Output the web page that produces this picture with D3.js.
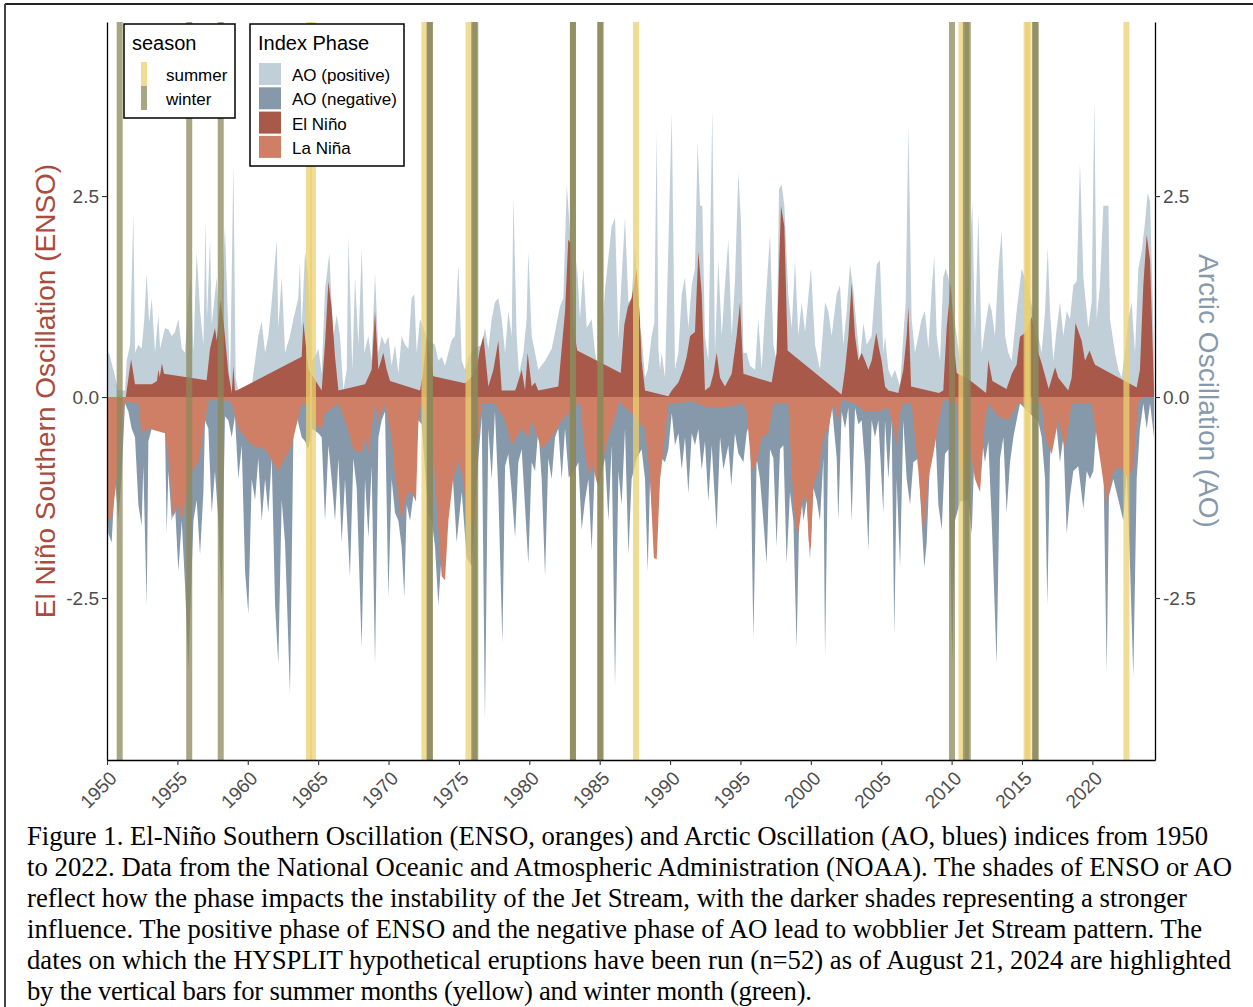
<!DOCTYPE html>
<html>
<head>
<meta charset="utf-8">
<script src="https://cdn.jsdelivr.net/npm/d3@7"></script>
<style>
  body { margin: 0; background: #fff; }
</style>
</head>
<body>
<div id="chart"></div>
<script>
// x axis ticks and y ticks (both y axes share the same scale)
const xTicks = [1950, 1955, 1960, 1965, 1970, 1975, 1980, 1985, 1990, 1995, 2000, 2005, 2010, 2015, 2020];
const yTicks = [-2.5, 0, 2.5];

// legend categories
const seasonNames = ["summer", "winter"];
const phaseNames = ["AO (positive)", "AO (negative)", "El Niño", "La Niña"];

// El Niño phase of ENSO  [year, index]
const ensoPos = [[1951.35,0.02],[1951.71,0.47],[1951.99,0.16],[1953.18,0.16],[1953.55,0.2],[1953.65,0.34],[1953.75,0.25],[1953.9,0.42],[1954.05,0.29],[1957.08,0.21],[1957.32,0.6],[1957.67,0.86],[1957.8,0.7],[1958.05,1.2],[1958.3,0.9],[1958.62,0.3],[1958.86,0.05],[1958.98,0.39],[1959.09,0.08],[1959.21,0.08],[1963.83,0.5],[1963.95,0.94],[1964.3,0.35],[1965.25,0.08],[1965.5,0.7],[1965.73,1.44],[1965.96,1.1],[1966.2,0.5],[1966.44,0.08],[1968.33,0.16],[1968.8,0.34],[1969.04,1.07],[1969.28,0.34],[1969.63,0.55],[1969.87,0.34],[1970.11,0.2],[1972.24,0.08],[1972.45,0.3],[1972.7,0.75],[1972.95,0.5],[1973.18,0.26],[1975.43,0.17],[1975.9,0.25],[1976.3,0.4],[1976.5,0.6],[1976.74,0.76],[1977.09,0.13],[1977.45,0.34],[1977.8,0.7],[1978.04,0.08],[1978.99,0.08],[1979.1,0.13],[1979.46,0.34],[1979.7,0.08],[1979.88,0.55],[1980.17,0.13],[1980.41,0.18],[1980.64,0.08],[1982.06,0.13],[1982.54,1.07],[1982.77,1.96],[1982.96,1.91],[1983.13,0.9],[1983.4,0.58],[1986.5,0.3],[1986.75,0.9],[1987.0,1.12],[1987.27,1.23],[1987.63,1.6],[1987.85,1.0],[1987.98,0.45],[1988.22,0.08],[1989.88,0.01],[1990.12,0.08],[1990.59,0.18],[1990.94,0.34],[1991.18,0.5],[1991.42,0.76],[1991.77,0.81],[1992.01,1.81],[1992.25,1.28],[1992.48,0.08],[1992.84,0.13],[1993.08,0.29],[1993.31,0.55],[1993.55,0.24],[1993.9,0.13],[1994.38,0.29],[1994.73,0.76],[1994.97,1.18],[1995.21,0.29],[1997.22,0.18],[1997.57,0.55],[1997.74,1.6],[1997.88,2.38],[1998.12,2.12],[1998.35,0.58],[2002.19,0.03],[2002.43,0.34],[2002.67,0.76],[2002.9,1.42],[2003.14,0.76],[2003.38,0.45],[2003.61,0.55],[2003.85,0.45],[2004.09,0.34],[2004.32,0.45],[2004.65,0.8],[2004.85,0.6],[2005.03,0.45],[2005.27,0.13],[2005.51,0.08],[2006.22,0.05],[2006.57,0.34],[2006.81,0.76],[2006.93,1.13],[2007.12,0.13],[2009.1,0.05],[2009.41,0.08],[2009.65,0.86],[2009.95,1.42],[2010.2,0.6],[2010.36,0.3],[2011.3,0.21],[2012.45,0.05],[2012.61,0.46],[2012.9,0.2],[2013.9,0.1],[2014.3,0.3],[2014.62,0.4],[2014.86,0.75],[2015.22,0.8],[2015.69,1.0],[2016.16,0.55],[2016.4,0.42],[2016.9,0.1],[2017.35,0.37],[2017.58,0.24],[2018.29,0.08],[2018.53,0.24],[2018.8,0.92],[2019.24,0.7],[2019.48,0.45],[2019.8,0.58],[2020.07,0.45],[2020.19,0.4],[2023.15,0.12],[2023.38,0.34],[2023.62,1.39],[2023.86,2.02],[2024.1,1.7],[2024.38,0.08]];

// La Niña phase of ENSO
const ensoNeg = [[1950.0,-1.5],[1950.33,-1.54],[1950.69,-1.02],[1951.04,-0.29],[1951.3,-0.05],[1952.23,-0.08],[1952.46,-0.45],[1952.94,-0.39],[1954.12,-0.45],[1954.36,-0.76],[1954.71,-1.49],[1955.07,-1.34],[1955.31,-1.54],[1955.66,-1.23],[1956.02,-0.92],[1956.49,-0.81],[1956.96,-0.29],[1957.25,-0.03],[1958.7,-0.05],[1958.86,-0.08],[1959.33,-0.39],[1960.28,-0.6],[1961.23,-0.65],[1962.17,-0.92],[1962.65,-0.76],[1963.12,-0.6],[1963.83,-0.08],[1964.54,-0.1],[1964.8,-0.35],[1965.25,-0.4],[1965.5,-0.2],[1966.44,-0.08],[1966.91,-0.29],[1967.5,-0.65],[1968.09,-0.7],[1968.33,-0.5],[1968.57,-0.7],[1968.8,-0.4],[1969.04,-0.08],[1969.28,-0.29],[1969.75,-0.08],[1970.22,-0.5],[1970.46,-0.97],[1970.93,-1.54],[1971.17,-1.3],[1971.41,-1.18],[1971.64,-1.18],[1971.95,-1.3],[1972.12,-0.29],[1972.36,-0.05],[1973.07,-0.45],[1973.42,-1.34],[1973.78,-2.23],[1974.01,-2.28],[1974.25,-1.54],[1974.6,-1.0],[1974.96,-0.8],[1975.32,-1.02],[1975.55,-1.54],[1975.91,-1.6],[1976.14,-1.2],[1976.38,-0.5],[1976.62,-0.08],[1977.56,-0.08],[1978.28,-0.29],[1978.75,-0.6],[1979.46,-0.39],[1979.93,-0.5],[1980.17,-0.29],[1980.88,-0.65],[1981.59,-0.5],[1982.3,-0.29],[1983.6,-0.05],[1983.9,-0.6],[1984.2,-0.95],[1984.5,-0.85],[1984.85,-1.1],[1985.2,-0.8],[1985.6,-0.5],[1986.0,-0.3],[1986.4,-0.05],[1986.8,-0.13],[1987.27,-0.2],[1987.75,-0.3],[1988.22,-0.39],[1988.58,-1.02],[1988.85,-2.0],[1989.05,-2.02],[1989.29,-1.02],[1989.64,-0.5],[1989.88,-0.08],[1990.3,-0.08],[1991.5,-0.05],[1992.7,-0.13],[1993.9,-0.13],[1995.2,-0.08],[1995.44,-0.18],[1995.8,-0.92],[1996.15,-0.81],[1996.51,-0.5],[1996.98,-0.45],[1997.34,-0.08],[1998.4,-0.08],[1998.64,-0.92],[1998.9,-1.6],[1999.11,-1.7],[1999.47,-1.23],[1999.71,-1.28],[1999.85,-1.8],[2000.0,-1.9],[2000.18,-1.1],[2000.53,-0.92],[2000.89,-0.5],[2001.24,-0.39],[2001.6,-0.08],[2001.95,-0.29],[2002.19,-0.03],[2003.14,-0.08],[2003.85,-0.18],[2004.8,-0.18],[2005.51,-0.13],[2005.74,-0.29],[2006.1,-0.6],[2006.34,-0.2],[2006.57,-0.08],[2007.16,-0.08],[2007.64,-0.92],[2007.99,-1.7],[2008.35,-1.02],[2008.7,-0.71],[2009.06,-0.34],[2009.41,-0.03],[2010.36,-0.08],[2010.8,-1.3],[2011.19,-0.5],[2011.66,-1.02],[2012.02,-1.18],[2012.37,-0.29],[2012.61,-0.08],[2013.32,-0.24],[2014.03,-0.29],[2014.74,-0.08],[2016.4,-0.08],[2016.64,-0.5],[2017.11,-0.71],[2017.58,-0.29],[2018.06,-0.65],[2018.53,-0.08],[2019.95,-0.08],[2020.54,-0.76],[2021.02,-1.34],[2021.49,-0.92],[2021.96,-0.86],[2022.56,-1.02],[2022.91,-0.86],[2023.27,-0.08],[2023.5,-0.01]];

// Arctic Oscillation, positive months
const aoPos = [[1950.0,0.6],[1950.22,0.5],[1950.45,0.34],[1950.81,0.08],[1951.28,0.08],[1951.4,0.45],[1951.64,0.65],[1951.87,2.28],[1951.99,0.55],[1952.23,0.65],[1952.46,0.6],[1952.65,0.97],[1952.82,1.54],[1952.99,0.92],[1953.18,1.23],[1953.41,0.55],[1953.65,1.02],[1953.77,0.6],[1954.12,0.86],[1954.36,0.84],[1954.6,0.76],[1954.83,0.81],[1955.07,0.97],[1955.31,0.6],[1955.54,0.55],[1955.78,1.23],[1955.97,1.49],[1956.14,0.55],[1956.37,1.81],[1956.61,1.07],[1956.85,0.65],[1957.0,2.2],[1957.1,0.97],[1957.32,1.96],[1957.44,0.9],[1957.79,1.49],[1958.03,0.76],[1958.38,2.12],[1958.74,0.13],[1958.98,2.91],[1959.14,0.24],[1959.33,0.08],[1959.81,0.1],[1960.28,0.13],[1960.52,0.45],[1960.75,0.76],[1960.99,0.94],[1961.23,0.55],[1961.46,0.76],[1961.7,1.18],[1961.94,1.7],[1962.06,1.96],[1962.17,0.86],[1962.41,1.49],[1962.65,0.55],[1963.0,0.76],[1963.24,0.97],[1963.59,1.23],[1963.7,1.68],[1963.83,0.86],[1964.07,1.81],[1964.3,1.49],[1964.54,0.45],[1964.78,0.5],[1965.02,0.6],[1965.25,0.29],[1965.49,1.34],[1965.8,1.79],[1965.95,1.2],[1966.08,0.76],[1966.32,1.02],[1966.55,0.76],[1966.79,0.08],[1967.03,0.34],[1967.15,2.0],[1967.43,0.34],[1967.62,1.49],[1967.86,0.65],[1968.1,1.85],[1968.28,0.55],[1968.57,0.76],[1968.8,0.45],[1969.04,1.54],[1969.28,0.55],[1969.51,0.76],[1969.75,0.65],[1969.99,0.76],[1970.22,0.39],[1970.46,0.65],[1970.7,0.29],[1970.93,0.76],[1971.17,0.65],[1971.41,0.6],[1971.64,1.23],[1971.83,1.28],[1972.0,0.55],[1972.24,0.97],[1972.47,0.86],[1972.8,0.71],[1973.3,0.65],[1973.54,0.45],[1973.78,0.5],[1974.01,0.39],[1974.25,0.55],[1974.49,0.71],[1974.72,0.76],[1974.96,1.65],[1975.2,0.45],[1975.43,0.34],[1975.7,0.5],[1976.1,0.6],[1976.62,0.65],[1976.85,0.86],[1977.09,0.6],[1977.33,0.97],[1977.56,1.18],[1977.8,1.23],[1978.04,0.97],[1978.28,0.55],[1978.51,1.07],[1978.75,0.76],[1978.87,2.49],[1979.1,0.76],[1979.27,0.29],[1979.58,0.55],[1979.81,0.97],[1979.93,1.81],[1980.17,0.76],[1980.41,0.55],[1980.64,0.34],[1981.12,0.45],[1981.59,0.6],[1981.83,0.81],[1982.18,1.13],[1982.42,1.23],[1982.66,2.64],[1982.89,2.07],[1983.13,0.76],[1983.37,1.7],[1983.6,0.97],[1983.84,1.6],[1984.08,0.86],[1984.43,0.97],[1984.67,0.55],[1984.91,0.34],[1985.14,0.76],[1985.38,1.34],[1985.85,2.12],[1986.09,2.23],[1986.33,0.71],[1986.56,1.49],[1986.8,2.23],[1987.04,1.18],[1987.27,1.23],[1987.51,1.91],[1987.75,0.97],[1987.98,0.76],[1988.22,0.24],[1988.41,0.34],[1988.69,0.76],[1988.88,0.92],[1989.05,3.32],[1989.17,0.6],[1989.29,0.34],[1989.4,0.55],[1989.64,0.24],[1990.12,3.53],[1990.35,0.34],[1990.59,0.55],[1990.83,1.28],[1991.06,1.49],[1991.3,0.86],[1991.54,1.39],[1991.77,1.6],[1991.96,3.17],[1992.13,2.38],[1992.29,2.38],[1992.48,0.76],[1992.72,0.45],[1993.0,3.59],[1993.19,0.55],[1993.43,1.7],[1993.67,0.76],[1993.9,1.39],[1994.14,1.96],[1994.38,0.76],[1994.61,1.44],[1994.85,2.8],[1995.04,2.17],[1995.21,0.55],[1995.44,0.55],[1995.68,0.39],[1996.04,0.34],[1996.27,0.97],[1996.51,0.34],[1996.75,1.07],[1997.1,2.02],[1997.34,0.65],[1997.57,0.45],[1997.74,2.59],[1997.93,2.64],[1998.12,2.38],[1998.4,1.28],[1998.64,0.86],[1998.88,1.7],[1999.11,0.76],[1999.35,1.18],[1999.59,0.81],[2000.01,1.6],[2000.3,0.65],[2000.65,0.34],[2001.01,1.18],[2001.24,1.07],[2001.48,0.76],[2001.84,1.28],[2002.07,1.39],[2002.31,0.65],[2002.55,1.07],[2002.78,1.65],[2003.02,1.34],[2003.26,0.86],[2003.49,0.45],[2003.73,0.92],[2003.97,0.65],[2004.32,0.76],[2004.68,1.65],[2004.91,1.7],[2005.15,0.55],[2005.27,0.76],[2005.51,0.34],[2005.74,0.24],[2005.98,0.34],[2006.34,0.13],[2006.57,0.76],[2006.74,1.18],[2006.93,3.38],[2007.16,0.97],[2007.4,0.55],[2007.64,0.76],[2007.87,0.97],[2008.11,1.07],[2008.35,0.6],[2008.59,1.34],[2008.77,1.75],[2008.94,0.76],[2009.18,0.45],[2009.41,1.49],[2009.58,1.6],[2009.77,1.49],[2010.12,1.07],[2010.6,0.45],[2011.19,1.49],[2011.47,2.43],[2011.66,0.76],[2011.9,2.28],[2012.14,0.55],[2012.37,0.86],[2012.66,1.18],[2012.85,1.07],[2013.08,0.76],[2013.32,1.6],[2013.56,2.07],[2013.8,0.76],[2014.03,0.55],[2014.27,0.45],[2014.62,1.07],[2014.98,1.6],[2015.5,1.3],[2016.4,0.55],[2016.64,1.07],[2016.83,1.86],[2016.99,1.07],[2017.23,0.45],[2017.47,0.86],[2017.7,1.18],[2017.94,0.76],[2018.18,1.07],[2018.41,0.97],[2018.65,1.39],[2018.89,1.44],[2019.12,2.91],[2019.36,1.49],[2019.71,0.86],[2019.95,1.18],[2020.14,3.69],[2020.31,0.97],[2020.54,1.39],[2020.78,2.38],[2020.95,2.38],[2021.14,2.38],[2021.25,0.97],[2021.61,0.55],[2021.85,0.34],[2022.08,0.24],[2022.32,0.55],[2022.56,0.97],[2022.79,1.18],[2023.03,0.55],[2023.27,1.6],[2023.5,1.81],[2023.74,2.17],[2023.93,2.54],[2024.1,2.43],[2024.38,0.55]];

// Arctic Oscillation, negative months
const aoNeg = [[1950.0,-1.28],[1950.1,-1.7],[1950.33,-1.81],[1950.57,-1.02],[1950.81,-1.54],[1951.04,-0.97],[1951.28,-0.08],[1951.52,-0.18],[1951.75,-0.39],[1951.99,-0.5],[1952.23,-1.34],[1952.46,-1.6],[1952.58,-0.86],[1952.82,-2.59],[1952.94,-0.55],[1953.18,-0.39],[1954.12,-0.39],[1954.24,-1.7],[1954.36,-0.92],[1954.6,-1.54],[1954.83,-1.34],[1955.07,-2.17],[1955.31,-1.54],[1955.54,-2.33],[1955.78,-3.4],[1956.14,-1.54],[1956.37,-1.28],[1956.61,-1.96],[1956.85,-1.18],[1956.96,-0.29],[1957.2,-0.39],[1957.44,-1.44],[1957.67,-0.92],[1957.91,-1.54],[1958.15,-2.59],[1958.38,-0.24],[1958.62,-0.29],[1958.86,-0.5],[1959.09,-0.24],[1959.33,-1.02],[1959.57,-0.6],[1959.81,-2.17],[1960.04,-2.7],[1960.28,-1.02],[1960.52,-1.28],[1960.75,-0.76],[1960.99,-1.54],[1961.23,-1.02],[1961.46,-1.44],[1961.7,-0.76],[1961.94,-2.59],[1962.17,-3.32],[1962.41,-1.28],[1962.65,-1.81],[1963.0,-3.69],[1963.24,-0.5],[1963.48,-0.24],[1963.83,-0.5],[1964.07,-0.55],[1964.3,-0.65],[1964.54,-0.39],[1965.02,-0.45],[1965.25,-0.5],[1965.49,-1.54],[1965.73,-0.6],[1965.96,-1.02],[1966.2,-1.54],[1966.44,-0.76],[1966.67,-1.81],[1966.91,-1.02],[1967.26,-2.23],[1967.5,-0.76],[1967.74,-1.13],[1968.09,-3.12],[1968.33,-1.02],[1968.57,-1.75],[1968.8,-0.86],[1969.04,-3.32],[1969.28,-0.5],[1969.51,-0.29],[1969.75,-0.18],[1969.99,-2.49],[1970.22,-1.02],[1970.46,-1.44],[1970.7,-1.54],[1970.93,-1.86],[1971.12,-2.49],[1971.29,-1.34],[1971.53,-1.54],[1971.76,-1.23],[1972.12,-0.29],[1972.36,-0.34],[1972.83,-1.49],[1973.07,-1.54],[1973.3,-1.86],[1973.54,-2.59],[1973.9,-1.6],[1974.13,-0.55],[1974.49,-0.76],[1974.84,-1.81],[1975.2,-1.18],[1975.55,-2.0],[1975.9,-2.1],[1976.38,-0.76],[1976.62,-0.24],[1976.85,-4.01],[1977.09,-0.39],[1977.33,-1.02],[1977.56,-0.18],[1977.8,-1.18],[1978.09,-3.06],[1978.28,-0.86],[1978.51,-0.71],[1978.75,-1.18],[1978.99,-1.75],[1979.22,-0.81],[1979.46,-0.65],[1979.93,-2.07],[1980.17,-0.81],[1980.41,-0.92],[1980.64,-0.39],[1980.88,-1.02],[1981.12,-2.23],[1981.35,-0.76],[1981.59,-1.02],[1981.83,-0.5],[1982.06,-0.39],[1982.3,-1.02],[1982.54,-0.39],[1982.8,-1.0],[1983.25,-0.9],[1983.49,-0.81],[1983.72,-1.65],[1983.96,-1.28],[1984.2,-1.02],[1984.43,-1.91],[1984.67,-0.81],[1984.95,-1.1],[1985.38,-0.76],[1985.62,-1.54],[1985.85,-0.6],[1986.09,-3.59],[1986.33,-0.92],[1986.56,-1.34],[1986.8,-0.39],[1987.04,-1.96],[1987.27,-1.02],[1987.63,-0.76],[1987.98,-0.65],[1988.22,-1.02],[1988.41,-2.17],[1988.58,-1.02],[1988.93,-2.02],[1989.17,-1.23],[1989.4,-0.76],[1989.64,-0.81],[1989.88,-0.65],[1990.12,-0.2],[1990.35,-0.6],[1990.59,-0.45],[1990.83,-0.9],[1991.06,-0.5],[1991.3,-1.2],[1991.54,-0.45],[1991.77,-0.6],[1992.01,-0.4],[1992.25,-0.9],[1992.48,-0.55],[1992.72,-1.3],[1992.96,-0.6],[1993.31,-1.65],[1993.55,-0.5],[1993.79,-0.9],[1994.14,-0.6],[1994.35,-1.1],[1994.61,-0.45],[1994.85,-0.7],[1995.21,-0.81],[1995.44,-0.45],[1995.68,-0.3],[1995.92,-3.01],[1996.15,-0.76],[1996.39,-1.02],[1996.63,-1.54],[1996.86,-2.07],[1997.1,-0.65],[1997.34,-0.76],[1997.57,-1.86],[1997.81,-0.65],[1998.05,-0.6],[1998.28,-2.07],[1998.52,-1.18],[1998.76,-1.54],[1998.99,-3.12],[1999.23,-1.02],[1999.47,-1.54],[1999.71,-1.28],[1999.94,-2.02],[2000.18,-1.13],[2000.42,-1.28],[2000.65,-1.54],[2000.89,-0.76],[2001.01,-3.22],[2001.24,-0.5],[2001.48,-0.08],[2001.84,-0.76],[2001.95,-1.54],[2002.19,-0.18],[2002.43,-0.39],[2002.67,-0.13],[2002.9,-1.54],[2003.14,-0.13],[2003.38,-0.34],[2003.61,-0.29],[2003.85,-0.86],[2004.09,-1.91],[2004.32,-0.29],[2004.56,-0.5],[2004.8,-0.29],[2005.15,-1.44],[2005.27,-0.29],[2005.51,-1.02],[2005.74,-0.29],[2005.93,-2.96],[2006.1,-1.02],[2006.34,-2.12],[2006.57,-0.29],[2006.81,-1.02],[2007.05,-1.34],[2007.28,-0.81],[2007.64,-0.76],[2007.87,-1.54],[2008.06,-2.12],[2008.23,-1.81],[2008.47,-0.76],[2008.82,-0.29],[2009.06,-1.34],[2009.3,-1.65],[2009.53,-0.71],[2009.77,-0.65],[2010.05,-3.3],[2010.24,-1.54],[2010.6,-1.3],[2011.19,-1.28],[2011.43,-1.7],[2011.66,-0.5],[2011.9,-0.92],[2012.14,-0.5],[2012.37,-0.81],[2012.61,-0.55],[2012.85,-1.54],[2013.2,-3.32],[2013.44,-0.76],[2013.68,-0.5],[2013.91,-1.44],[2014.15,-0.81],[2014.39,-0.5],[2014.62,-0.29],[2014.86,-0.08],[2015.5,-0.2],[2016.16,-0.3],[2016.4,-0.5],[2016.64,-1.02],[2016.8,-2.59],[2016.99,-0.76],[2017.23,-0.18],[2017.47,-0.39],[2017.7,-0.81],[2017.94,-0.5],[2018.18,-1.7],[2018.41,-1.23],[2018.65,-0.92],[2019.0,-0.86],[2019.36,-1.39],[2019.6,-0.92],[2019.83,-1.02],[2020.07,-0.92],[2020.31,-0.29],[2020.54,-0.29],[2020.78,-0.76],[2021.02,-3.43],[2021.18,-1.23],[2021.49,-1.02],[2021.85,-1.28],[2022.2,-1.54],[2022.44,-0.92],[2022.67,-2.07],[2022.91,-3.48],[2023.15,-1.02],[2023.38,-0.39],[2023.62,-0.08],[2023.86,-0.39],[2024.1,-0.08],[2024.38,-0.5]];

// eruption run dates (decimal year) and their season
const eruptionDates  = [1950.9, 1955.84, 1958.08, 1964.35, 1964.63, 1972.55, 1972.93, 1972.93, 1975.68, 1976.08, 1976.16, 1983.1, 1983.1, 1985.05, 1985.05, 1987.58, 2010.03, 2010.7, 2011.02, 2011.15, 2015.33, 2015.45, 2015.92, 2015.98, 2022.42];
const eruptionSeason = ["winter","winter","winter","summer","summer","summer","winter","winter","summer","winter","winter","winter","winter","winter","winter","summer","winter","summer","winter","winter","summer","summer","winter","winter","summer"];

const captionLines = [
  "Figure 1. El-Niño Southern Oscillation (ENSO, oranges) and Arctic Oscillation (AO, blues) indices from 1950",
  "to 2022. Data from the National Oceanic and Atmospheric Administration (NOAA). The shades of ENSO or AO",
  "reflect how the phase impacts the instability of the Jet Stream, with the darker shades representing a stronger",
  "influence. The positive phase of ENSO and the negative phase of AO lead to wobblier Jet Stream pattern. The",
  "dates on which the HYSPLIT hypothetical eruptions have been run (n=52) as of August 21, 2024 are highlighted",
  "by the vertical bars for summer months (yellow) and winter month (green)."
];

//画布
const W = 1253, H = 1007;
const plot = { left: 107, right: 1155, top: 22, bottom: 760 };
const phaseColors = ["#c1cfd9", "#8699ab", "#a8594a", "#d07f67"];
const seasonColors = { summer: "#ebd070", winter: "#8c885a" };
const barOpacity = 0.75;
const sans = "'Liberation Sans', Arial, Helvetica, sans-serif";
const serif = "'Liberation Serif', 'Times New Roman', Times, serif";
const tickGrey = "#4d4d4d";

const svg = d3.select("#chart").append("svg")
  .attr("width", W).attr("height", H)
  .style("display", "block");

svg.append("rect").attr("width", W).attr("height", H).attr("fill", "#fff");

// frame around the figure
svg.append("line").attr("x1", 5).attr("x2", W).attr("y1", 4).attr("y2", 4)
  .attr("stroke", "#222").attr("stroke-width", 2);
svg.append("line").attr("x1", 5).attr("x2", 5).attr("y1", 4).attr("y2", H)
  .attr("stroke", "#444").attr("stroke-width", 2);

const x = d3.scaleLinear().domain([1950, 2024.45]).range([plot.left, plot.right]);
const y = d3.scaleLinear().domain([-4.515, 4.665]).range([plot.bottom, plot.top]);

svg.append("clipPath").attr("id", "clip").append("rect")
  .attr("x", plot.left).attr("y", plot.top)
  .attr("width", plot.right - plot.left).attr("height", plot.bottom - plot.top);

const area = d3.area()
  .x(d => x(d[0]))
  .y0(y(0))
  .y1(d => y(d[1]));

const panel = svg.append("g").attr("clip-path", "url(#clip)");

// AO behind, ENSO in front
const layers = [aoPos, aoNeg, ensoPos, ensoNeg];
layers.forEach((data, i) => {
  panel.append("path")
    .datum(data)
    .attr("d", area)
    .attr("fill", phaseColors[i]);
});

// eruption bars
const barW = 6;
panel.selectAll("rect.bar")
  .data(eruptionDates)
  .enter().append("rect")
  .attr("class", "bar")
  .attr("x", d => x(d) - barW / 2)
  .attr("y", plot.top)
  .attr("width", barW)
  .attr("height", plot.bottom - plot.top)
  .attr("fill", (d, i) => seasonColors[eruptionSeason[i]])
  .attr("opacity", barOpacity);

//坐标轴
function styleAxis(g) {
  g.selectAll(".domain").attr("stroke", "#000").attr("stroke-width", 1.3);
  g.selectAll(".tick line").attr("stroke", "#333").attr("stroke-width", 1.1);
  g.selectAll(".tick text").attr("fill", tickGrey)
    .style("font-family", sans).style("font-size", "19px");
}

const xAxis = svg.append("g")
  .attr("transform", `translate(0,${plot.bottom})`)
  .call(d3.axisBottom(x).tickValues(xTicks).tickSize(5).tickSizeOuter(0).tickFormat(d3.format("d")));
styleAxis(xAxis);
xAxis.selectAll(".tick text")
  .attr("x", 0).attr("y", 0).attr("dy", "0.71em")
  .attr("text-anchor", "end")
  .attr("transform", "translate(1,10) rotate(-45)");

const yAxisL = svg.append("g")
  .attr("transform", `translate(${plot.left},0)`)
  .call(d3.axisLeft(y).tickValues(yTicks).tickSize(5).tickPadding(3).tickSizeOuter(0).tickFormat(d => d.toFixed(1)));
styleAxis(yAxisL);

const yAxisR = svg.append("g")
  .attr("transform", `translate(${plot.right},0)`)
  .call(d3.axisRight(y).tickValues(yTicks).tickSize(5).tickPadding(3).tickSizeOuter(0).tickFormat(d => d.toFixed(1)));
styleAxis(yAxisR);

// axis titles
const midY = (plot.top + plot.bottom) / 2;
svg.append("text")
  .attr("transform", `translate(55,${midY}) rotate(-90)`)
  .attr("text-anchor", "middle")
  .attr("fill", "#a84c3d")
  .style("font-family", sans).style("font-size", "28px")
  .text("El Niño Southern Oscillation (ENSO)");

svg.append("text")
  .attr("transform", `translate(1199,${midY}) rotate(90)`)
  .attr("text-anchor", "middle")
  .attr("fill", "#8799ac")
  .style("font-family", sans).style("font-size", "28px")
  .text("Arctic Oscillation (AO)");

//图例 season
const legS = svg.append("g");
legS.append("rect").attr("x", 124).attr("y", 24).attr("width", 111).attr("height", 94)
  .attr("fill", "#fff").attr("stroke", "#000").attr("stroke-width", 1.5);
legS.append("text").attr("x", 132).attr("y", 50)
  .style("font-family", sans).style("font-size", "20px").text("season");
seasonNames.forEach((s, i) => {
  legS.append("rect").attr("x", 141).attr("y", 62 + i * 24).attr("width", barW).attr("height", 24)
    .attr("fill", seasonColors[s]).attr("opacity", barOpacity);
  legS.append("text").attr("x", 166).attr("y", 81 + i * 24)
    .style("font-family", sans).style("font-size", "17px").text(s);
});

//图例 Index Phase
const legP = svg.append("g");
legP.append("rect").attr("x", 250).attr("y", 24).attr("width", 154).attr("height", 142)
  .attr("fill", "#fff").attr("stroke", "#000").attr("stroke-width", 1.5);
legP.append("text").attr("x", 258).attr("y", 50)
  .style("font-family", sans).style("font-size", "20px").text("Index Phase");
phaseNames.forEach((p, i) => {
  legP.append("rect").attr("x", 259).attr("y", 63 + i * 24.3).attr("width", 22).attr("height", 22)
    .attr("fill", phaseColors[i]);
  legP.append("text").attr("x", 292).attr("y", 81 + i * 24.3)
    .style("font-family", sans).style("font-size", "17px").text(p);
});

// caption: size the serif font so the first line fills its width, then fit each line
const capWidths = [1181, 1205, 1160, 1175, 1204, 785];
const probe = svg.append("text").style("font-family", serif).style("font-size", "24px").text(captionLines[0]);
const capSize = Math.min(27, 24 * capWidths[0] / probe.node().getComputedTextLength());
probe.remove();
captionLines.forEach((line, i) => {
  svg.append("text")
    .attr("x", 27).attr("y", 845 + i * 31)
    .attr("fill", "#000")
    .attr("textLength", capWidths[i])
    .attr("lengthAdjust", "spacing")
    .style("font-family", serif)
    .style("font-size", capSize + "px")
    .text(line);
});
</script>
</body>
</html>
